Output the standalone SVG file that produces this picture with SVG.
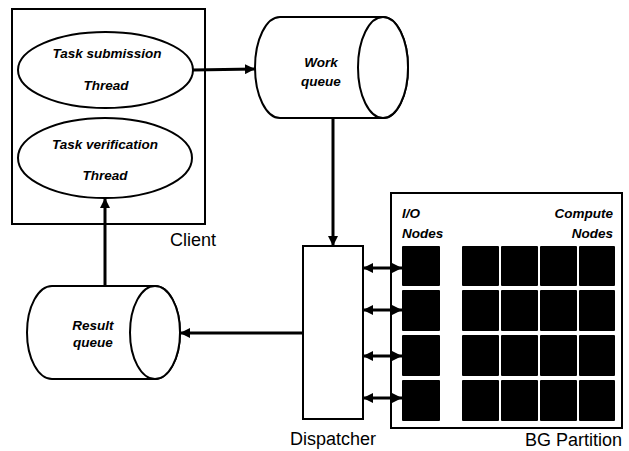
<svg xmlns="http://www.w3.org/2000/svg" width="629" height="451" viewBox="0 0 629 451">
<style>
.sh{fill:#fff;stroke:#000;stroke-width:2}
.lbl{font-family:"Liberation Sans",Arial,sans-serif;font-size:13.5px;font-weight:bold;font-style:italic;fill:#000}
.cap{font-family:"Liberation Sans",Arial,sans-serif;font-size:18px;fill:#000}
.c{stroke:#000;stroke-width:3;fill:none}
.blk{fill:#000}
</style>
<defs>
<marker id="ah" markerUnits="userSpaceOnUse" markerWidth="10" markerHeight="10" viewBox="0 0 10 10" refX="10" refY="5" orient="auto-start-reverse">
<path d="M0,0 L10,5 L0,10 Z" fill="#000"/>
</marker>
</defs>
<rect width="629" height="451" fill="#fff"/>
<g id="client">
<rect class="sh" x="12" y="9" width="193" height="215"/>
<text class="cap" x="170" y="246">Client</text>
</g>
<g id="task-submission">
<ellipse class="sh" cx="105.5" cy="70" rx="87.5" ry="38"/>
<text class="lbl" x="107" y="58" text-anchor="middle">Task submission</text>
<text class="lbl" x="106" y="90" text-anchor="middle">Thread</text>
</g>
<g id="task-verification">
<ellipse class="sh" cx="105" cy="158" rx="87" ry="40"/>
<text class="lbl" x="105" y="149" text-anchor="middle">Task verification</text>
<text class="lbl" x="105" y="180" text-anchor="middle">Thread</text>
</g>
<g id="work-queue">
<path class="sh" d="M280,17 L383,17 A25,50.5 0 0 1 383,118 L280,118 A25,50.5 0 0 1 280,17 Z"/>
<ellipse class="sh" cx="383" cy="67.5" rx="25" ry="50.5"/>
<text class="lbl" x="321" y="67" text-anchor="middle">Work</text>
<text class="lbl" x="321" y="86" text-anchor="middle">queue</text>
</g>
<g id="result-queue">
<path class="sh" d="M52,286 L155,286 A25,46.5 0 0 1 155,379 L52,379 A25,46.5 0 0 1 52,286 Z"/>
<ellipse class="sh" cx="155" cy="332.5" rx="25" ry="46.5"/>
<text class="lbl" x="93" y="330" text-anchor="middle">Result</text>
<text class="lbl" x="93" y="347" text-anchor="middle">queue</text>
</g>
<g id="dispatcher">
<rect class="sh" x="303" y="246" width="60" height="173"/>
<text class="cap" x="333" y="445" text-anchor="middle">Dispatcher</text>
</g>
<g id="bg-partition">
<rect class="sh" x="391" y="193" width="231" height="235"/>
<text class="lbl" x="402" y="218">I/O</text>
<text class="lbl" x="402" y="238">Nodes</text>
<text class="lbl" x="613" y="218" text-anchor="end">Compute</text>
<text class="lbl" x="613" y="238" text-anchor="end">Nodes</text>
<text class="cap" x="622" y="446" text-anchor="end">BG Partition</text>
</g>
<g id="io-nodes">
<rect class="blk" x="402" y="246" width="38" height="40" rx="1"/>
<rect class="blk" x="402" y="290" width="38" height="41" rx="1"/>
<rect class="blk" x="402" y="335" width="38" height="41" rx="1"/>
<rect class="blk" x="402" y="380" width="38" height="41" rx="1"/>
</g>
<g id="compute-nodes">
<rect class="blk" x="462" y="246" width="37" height="40" rx="1"/>
<rect class="blk" x="501" y="246" width="37" height="40" rx="1"/>
<rect class="blk" x="540" y="246" width="37" height="40" rx="1"/>
<rect class="blk" x="579" y="246" width="36" height="40" rx="1"/>
<rect class="blk" x="462" y="290" width="37" height="41" rx="1"/>
<rect class="blk" x="501" y="290" width="37" height="41" rx="1"/>
<rect class="blk" x="540" y="290" width="37" height="41" rx="1"/>
<rect class="blk" x="579" y="290" width="36" height="41" rx="1"/>
<rect class="blk" x="462" y="335" width="37" height="41" rx="1"/>
<rect class="blk" x="501" y="335" width="37" height="41" rx="1"/>
<rect class="blk" x="540" y="335" width="37" height="41" rx="1"/>
<rect class="blk" x="579" y="335" width="36" height="41" rx="1"/>
<rect class="blk" x="462" y="380" width="37" height="41" rx="1"/>
<rect class="blk" x="501" y="380" width="37" height="41" rx="1"/>
<rect class="blk" x="540" y="380" width="37" height="41" rx="1"/>
<rect class="blk" x="579" y="380" width="36" height="41" rx="1"/>
</g>
<g id="connectors">
<line class="c" x1="193" y1="70" x2="255" y2="69" marker-end="url(#ah)"/>
<line class="c" x1="333" y1="118" x2="333" y2="246" marker-end="url(#ah)"/>
<line class="c" x1="303" y1="333" x2="180" y2="333" marker-end="url(#ah)"/>
<line class="c" x1="105" y1="286" x2="105" y2="198" marker-end="url(#ah)"/>
<line class="c" x1="363" y1="268" x2="402" y2="268" marker-start="url(#ah)" marker-end="url(#ah)"/>
<line class="c" x1="363" y1="310" x2="402" y2="310" marker-start="url(#ah)" marker-end="url(#ah)"/>
<line class="c" x1="363" y1="356" x2="402" y2="356" marker-start="url(#ah)" marker-end="url(#ah)"/>
<line class="c" x1="363" y1="398" x2="402" y2="398" marker-start="url(#ah)" marker-end="url(#ah)"/>
</g>
</svg>
